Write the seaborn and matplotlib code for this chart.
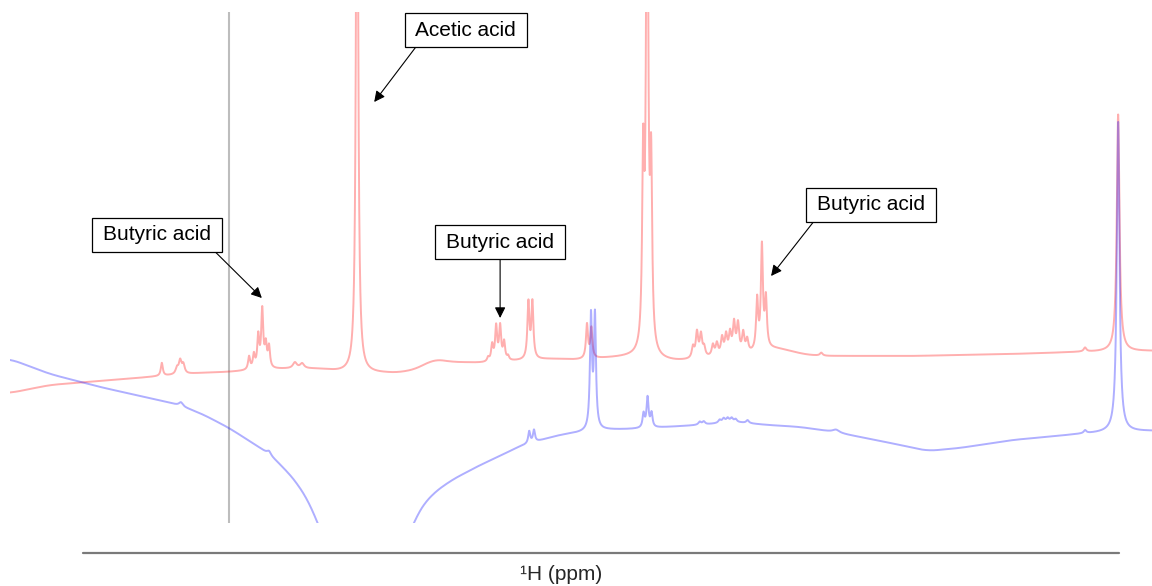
import numpy as np
import pandas as pd
import matplotlib
matplotlib.use("Agg")
import matplotlib.pyplot as plt
from matplotlib.lines import Line2D
import seaborn as sns

sns.set_style("white")
plt.rcParams["font.family"] = ["Liberation Sans", "DejaVu Sans"]

# chemical-shift window (ppm), drawn from high to low field
ppm_left, ppm_right = 2.781, -0.085

# ---- sample A (red trace) ----
red_base_ppm = [2.781, 2.681, 2.555, 2.430, 2.304, 2.231, 2.191, 2.103, 2.003, 1.953,
                1.878, 1.802, 1.752, 1.719, 1.677, 1.593, 1.508, 1.426, 1.350, 1.281,
                1.215, 1.130, 1.090, 1.024, 0.924, 0.873, 0.823, 0.798, 0.748, 0.515,
                0.264, 0.095, -0.085]
red_base_int = [130, 138, 142, 146, 150, 151, 152, 154, 154, 151,
                150, 150, 155, 164, 161, 160, 162, 164, 163, 165,
                166, 162, 162, 165, 168, 175, 172, 169, 167, 167,
                169, 171, 172]
red_peak_ppm = [2.400, 2.362, 2.354, 2.346,
                2.181, 2.169, 2.158, 2.148, 2.139, 2.131, 2.066, 2.048,
                1.910,
                1.581, 1.571, 1.561, 1.551, 1.541, 1.531,
                1.480, 1.470, 1.333, 1.322,
                1.192, 1.182, 1.172,
                1.067, 1.057, 1.047, 1.039, 1.017, 1.007, 0.994, 0.984, 0.974,
                0.964, 0.954, 0.941, 0.931,
                0.906, 0.894, 0.884, 0.745, 0.083, 0.000]
red_peak_height = [13, 6, 13, 9,
                   13, 14, 32, 58, 22, 21, 6, 5,
                   700,
                   4, 16, 34, 34, 18, 4,
                   56, 56, 34, 30,
                   180, 600, 172,
                   11, 25, 22, 9, 11, 12, 17, 19, 20,
                   30, 29, 20, 13,
                   50, 102, 48, 3, 4, 237]
red_peak_width = [0.003, 0.004, 0.004, 0.004,
                  0.003, 0.003, 0.003, 0.003, 0.003, 0.003, 0.006, 0.006,
                  0.003,
                  0.003, 0.003, 0.003, 0.003, 0.003, 0.003,
                  0.003, 0.003, 0.003, 0.003,
                  0.003, 0.003, 0.003,
                  0.0035, 0.0035, 0.0035, 0.0035, 0.0035, 0.0035, 0.0035, 0.0035, 0.0035,
                  0.0035, 0.0035, 0.0035, 0.0035,
                  0.003, 0.003, 0.003, 0.004, 0.004, 0.004]

# ---- sample B (blue trace) ----
blue_base_ppm = [2.781, 2.681, 2.555, 2.455, 2.367, 2.304, 2.231, 2.138, 2.093, 2.053,
                 2.028, 2.008, 1.990, 1.953, 1.890, 1.827, 1.790, 1.770, 1.752,
                 1.727, 1.677, 1.601, 1.551, 1.501, 1.401, 1.338, 1.300, 1.215,
                 1.049, 0.965, 0.880, 0.798, 0.715, 0.648, 0.547, 0.479, 0.397,
                 0.264, 0.095, 0.013, -0.085]
blue_base_int = [164, 149, 136, 127, 119, 110, 95, 71, 55, 36,
                 19, 0, -20, -60, -120, -60, -22, 0, 14,
                 27, 42, 58, 67, 77, 88, 91, 93, 94,
                 98, 101, 98, 96, 91, 86, 78, 72, 75,
                 83, 89, 91, 92]
blue_peak_ppm = [2.352, 2.131, 1.478, 1.466, 1.323, 1.313,
                 1.191, 1.181, 1.171,
                 1.050, 1.040, 1.000, 0.990, 0.980, 0.970, 0.960, 0.930,
                 0.708, 0.083, 0.000]
blue_peak_height = [4, 4, 12, 12, 112, 112,
                    14, 30, 14,
                    3, 3, 3, 4, 4, 4, 3, 3,
                    3, 3, 310]
blue_peak_width = [0.006, 0.006, 0.003, 0.003, 0.003, 0.003,
                   0.003, 0.003, 0.003,
                   0.004, 0.004, 0.004, 0.004, 0.004, 0.004, 0.004, 0.004,
                   0.010, 0.004, 0.004]


def spectrum(grid, base_ppm, base_int, pk_ppm, pk_h, pk_w, smooth=260):
    """Smoothed baseline plus a sum of Lorentzian lines."""
    bp = np.asarray(base_ppm)[::-1]
    bi = np.asarray(base_int)[::-1]
    base = np.interp(grid, bp, bi)
    kernel = np.ones(smooth) / smooth
    padded = np.concatenate([np.full(smooth, base[0]), base, np.full(smooth, base[-1])])
    base = np.convolve(padded, kernel, mode="same")[smooth:-smooth]
    y = base.copy()
    for c, h, w in zip(pk_ppm, pk_h, pk_w):
        y = y + h * w ** 2 / ((grid - c) ** 2 + w ** 2)
    return y


grid = np.linspace(ppm_left, ppm_right, 14000)
df = pd.concat([
    pd.DataFrame({"ppm": grid, "intensity": spectrum(grid, red_base_ppm, red_base_int,
                                                     red_peak_ppm, red_peak_height, red_peak_width),
                  "sample": "A"}),
    pd.DataFrame({"ppm": grid, "intensity": spectrum(grid, blue_base_ppm, blue_base_int,
                                                     blue_peak_ppm, blue_peak_height, blue_peak_width),
                  "sample": "B"}),
], ignore_index=True)

fig = plt.figure(figsize=(11.52, 5.86), dpi=100)
ax = fig.add_axes([10 / 1152, 63 / 586, 1142 / 1152, 511 / 586])

sns.lineplot(data=df, x="ppm", y="intensity", hue="sample",
             palette={"A": "#ff1a1a", "B": "#1a1aff"}, estimator=None, sort=False,
             legend=False, lw=1.4, alpha=0.35, ax=ax)

ax.set_xlim(ppm_left, ppm_right)
ax.set_ylim(0, 511)
ax.axvline(2.231, color="#bdbdbd", lw=1.5, zorder=1)
ax.set_axis_off()

# peak assignments
labels = ["Butyric acid", "Acetic acid", "Butyric acid", "Butyric acid"]
text_pos = [(2.412, 288), (1.637, 493), (1.551, 281), (0.620, 318)]
tip_pos = [(2.149, 225), (1.867, 421), (1.551, 205), (0.871, 247)]
start_rel = [(0.97, 0.0), (0.06, 0.0), (0.5, 0.0), (0.02, 0.0)]
for lab, tp, ap, rp in zip(labels, text_pos, tip_pos, start_rel):
    ax.annotate(lab, xy=ap, xytext=tp, ha="center", va="center", fontsize=15,
                color="black", annotation_clip=False, zorder=5,
                bbox=dict(boxstyle="square,pad=0.52", mutation_aspect=0.7,
                          fc="white", ec="black", lw=0.9),
                arrowprops=dict(arrowstyle="-|>", color="black", lw=0.8,
                                mutation_scale=16, shrinkA=0, shrinkB=0, relpos=rp))

# axis rule and label beneath the spectrum
fig.add_artist(Line2D([83 / 1152, 1119 / 1152], [1 - 553 / 586, 1 - 553 / 586],
                      color="#7a7a7a", lw=1.6))
fig.text(561 / 1152, 1 - 574 / 586, "¹H (ppm)", ha="center", va="center", fontsize=15)

fig.savefig("out.png", dpi=100)
